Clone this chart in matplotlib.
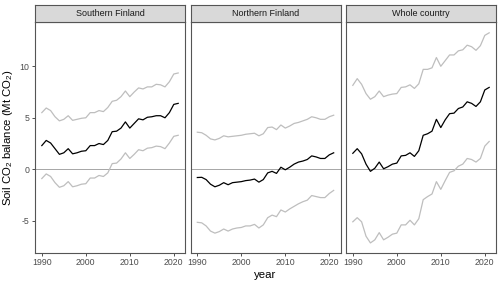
import matplotlib
matplotlib.use("Agg")
import matplotlib.pyplot as plt

plt.rcParams['font.family'] = ['Liberation Sans', 'DejaVu Sans']
plt.rcParams['mathtext.fontset'] = 'custom'
plt.rcParams['mathtext.rm'] = 'Liberation Sans'
plt.rcParams['axes.unicode_minus'] = False

years = list(range(1990, 2022))

regions = ["Southern Finland", "Northern Finland", "Whole country"]

south_mid = [2.3, 2.8, 2.55, 2.0, 1.45, 1.6, 2.0, 1.5, 1.6, 1.75, 1.8, 2.3, 2.3, 2.5, 2.4, 2.8,
             3.65, 3.7, 4.0, 4.6, 4.0, 4.45, 4.9, 4.8, 5.05, 5.1, 5.2, 5.2, 5.0, 5.5, 6.3, 6.4]
south_hi = [5.5, 5.95, 5.7, 5.1, 4.7, 4.85, 5.2, 4.75, 4.85, 4.95, 5.0, 5.5, 5.5, 5.7, 5.6, 6.0,
            6.6, 6.7, 7.05, 7.6, 7.05, 7.5, 7.9, 7.8, 8.0, 8.0, 8.25, 8.2, 8.0, 8.5, 9.25, 9.35]
south_lo = [-0.9, -0.45, -0.7, -1.3, -1.75, -1.6, -1.2, -1.7, -1.6, -1.45, -1.4, -0.85, -0.85, -0.6, -0.7, -0.35,
            0.55, 0.6, 1.0, 1.6, 1.05, 1.45, 1.9, 1.8, 2.05, 2.1, 2.25, 2.2, 2.0, 2.55, 3.2, 3.3]

north_mid = [-0.8, -0.78, -1.0, -1.45, -1.7, -1.55, -1.3, -1.5, -1.3, -1.25, -1.2, -1.1, -1.05, -0.95, -1.25, -1.0,
             -0.35, -0.2, -0.4, 0.2, -0.05, 0.2, 0.5, 0.7, 0.8, 0.95, 1.3, 1.2, 1.05, 1.05, 1.4, 1.6]
north_hi = [3.6, 3.55, 3.3, 2.95, 2.85, 3.0, 3.25, 3.15, 3.2, 3.25, 3.3, 3.4, 3.45, 3.5, 3.25, 3.45,
            4.05, 4.1, 3.85, 4.3, 4.0, 4.2, 4.45, 4.55, 4.7, 4.85, 5.1, 5.0, 4.85, 4.85, 5.1, 5.25]
north_lo = [-5.15, -5.2, -5.5, -6.0, -6.2, -6.05, -5.8, -6.0, -5.8, -5.7, -5.65, -5.5, -5.5, -5.35, -5.7, -5.4,
            -4.7, -4.45, -4.6, -3.95, -4.15, -3.85, -3.6, -3.35, -3.15, -3.0, -2.55, -2.65, -2.75, -2.75, -2.35, -2.05]

whole_mid = [1.55, 2.0, 1.5, 0.5, -0.2, 0.1, 0.7, 0.05, 0.25, 0.5, 0.6, 1.3, 1.35, 1.6, 1.25, 1.8,
             3.3, 3.45, 3.7, 4.85, 4.05, 4.8, 5.4, 5.45, 5.9, 6.05, 6.55, 6.4, 6.1, 6.55, 7.7, 7.95]
whole_hi = [8.15, 8.8, 8.25, 7.35, 6.8, 7.05, 7.6, 7.05, 7.2, 7.3, 7.35, 7.95, 8.0, 8.2, 7.85, 8.3,
            9.7, 9.7, 9.85, 10.85, 10.0, 10.55, 11.1, 11.1, 11.5, 11.6, 12.05, 11.9, 11.55, 12.0, 13.0, 13.25]
whole_lo = [-5.1, -4.7, -5.1, -6.5, -7.15, -6.85, -6.15, -6.85, -6.6, -6.3, -6.2, -5.4, -5.4, -4.95, -5.4, -4.8,
            -2.95, -2.65, -2.4, -1.2, -1.95, -1.1, -0.3, -0.15, 0.3, 0.5, 1.05, 0.95, 0.7, 1.05, 2.25, 2.7]

series = [(south_lo, south_mid, south_hi),
          (north_lo, north_mid, north_hi),
          (whole_lo, whole_mid, whole_hi)]

fig = plt.figure(figsize=(5, 2.85), dpi=100)

left0 = 35 / 500
pw = 150 / 500
gap = 5.5 / 500
bottom = 1 - 252.7 / 285
ptop = 1 - 22 / 285
strip_h = (22 - 4.7) / 285

border = '#555555'
for i, (name, (lo, mid, hi)) in enumerate(zip(regions, series)):
    x0 = left0 + i * (pw + gap)
    ax = fig.add_axes([x0, bottom, pw, ptop - bottom])
    ax.axhline(0, color='#a6a6a6', lw=0.7, zorder=1)
    ax.plot(years, hi, color='#bebebe', lw=0.9, zorder=2)
    ax.plot(years, lo, color='#bebebe', lw=0.9, zorder=2)
    ax.plot(years, mid, color='black', lw=0.9, zorder=3)
    ax.set_xlim(1988.45, 2022.55)
    ax.set_ylim(-8.1, 14.3)
    ax.set_xticks([1990, 2000, 2010, 2020])
    ax.set_yticks([-5, 0, 5, 10])
    ax.tick_params(length=2.5, width=0.6, color='#333333', labelsize=6.3,
                   labelcolor='#4d4d4d', pad=1.5)
    if i > 0:
        ax.tick_params(axis='y', left=False, labelleft=False)
    for s in ax.spines.values():
        s.set_color(border)
        s.set_linewidth(0.8)

    sax = fig.add_axes([x0, ptop, pw, strip_h])
    sax.set_facecolor('#d9d9d9')
    sax.set_xticks([])
    sax.set_yticks([])
    for s in sax.spines.values():
        s.set_color(border)
        s.set_linewidth(0.8)
    sax.text(0.5, 0.5, name, ha='center', va='center', fontsize=6.5,
             color='#1a1a1a', transform=sax.transAxes)

fig.text(left0 + 1.5 * pw + gap, 0.035, 'year', ha='center', va='center', fontsize=8.2)
fig.text(0.016, (bottom + ptop) / 2, 'Soil CO$_2$ balance (Mt CO$_2$)', rotation=90,
         ha='center', va='center', fontsize=8.2)

fig.savefig('out.png', dpi=100)
